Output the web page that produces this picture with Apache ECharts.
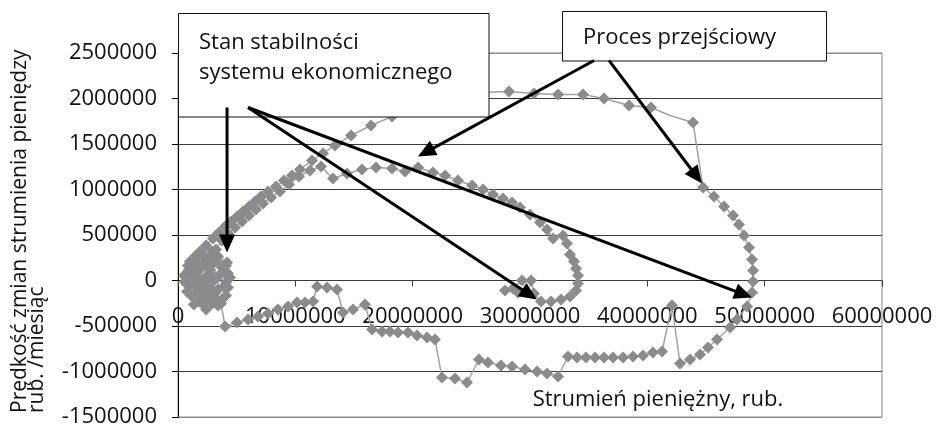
<!DOCTYPE html>
<html><head><meta charset="utf-8">
<script src="https://cdn.jsdelivr.net/npm/echarts@6/dist/echarts.min.js"></script>
<style>html,body{margin:0;padding:0;background:#fff}#c{width:937px;height:427px}</style>
</head><body><div id="c"></div>
<script>
// ---- data ----
const xMin = 0, xMax = 60000000, xStep = 10000000;
const yMin = -1500000, yMax = 2500000, yStep = 500000;

// outer trajectory (large loop) – x: Strumień pieniężny [rub.], y: prędkość zmian [rub./miesiąc]
const outerX = [
 940000, 1530000, 2300000, 3070000, 3750000, 4090000, 3750000, 2900000, 1880000, 1020000, 1620000, 2390000, 3070000, 2130000, 2810000, 1190000, 680000, 4260000, 2900000, 1530000,
 1450000, 2300000, 3410000, 4090000, 4430000, 4090000, 3410000, 2390000, 1360000, 770000, 510000, 1020000, 1880000, 2730000, 3490000, 3410000, 2560000, 1620000, 1280000, 1880000, 2810000, 2300000,
 2470000, 2980000, 2560000, 1790000, 1530000, 2130000, 3240000, 3920000, 3920000, 3240000, 2130000, 1110000, 600000, 850000, 1700000, 2900000, 4180000, 4260000,
 1880000, 2390000, 2980000, 3490000, 4010000, 4520000, 5030000, 5540000, 6050000, 6560000, 7070000, 7670000, 8350000, 9030000, 9720000, 10400000, 11420000, 12360000, 13380000, 14750000, 16450000, 18240000,
 20030000, 21900000, 23860000, 25910000,
 28210000, 30340000, 32390000, 34520000, 36310000, 38440000, 40310000, 41930000, 43890000,
 44750000, 45680000, 46540000, 47300000, 47810000, 48240000, 48670000, 48920000, 49010000, 49010000, 48920000, 48500000, 47640000, 47050000, 45940000, 45170000, 44490000, 43640000, 42790000,
 42100000,
 41250000, 40480000, 39630000, 38780000, 37930000, 37080000, 36310000, 35540000, 34770000, 34010000, 33240000,
 32390000, 31450000, 30600000, 29580000, 28470000, 27530000, 26420000, 25650000,
 24630000, 23610000, 22500000,
 21900000, 21220000, 20370000, 19600000, 18750000, 18070000, 17390000, 16540000,
 15940000, 14920000, 14060000,
 13550000, 12700000, 11850000,
 11510000, 10820000, 10140000, 9380000, 8520000, 7670000, 6820000, 5970000, 5030000, 4010000,
 3670000, 2900000
];
const outerY = [
 121000, 143000, 187000, 198000, 143000, -22000, -209000, -253000, -220000, -55000, -77000, 0, -143000, -132000, 55000, 44000, -33000, 77000, 275000, 275000,
 209000, 253000, 264000, 165000, 33000, -165000, -275000, -319000, -264000, -121000, 55000, 209000, 121000, 121000, 55000, -99000, -187000, -143000, -11000, 11000, -22000, -77000,
 55000, -11000, -99000, -55000, 77000, 187000, 209000, 99000, -66000, -198000, -253000, -165000, -11000, 165000, 275000, 319000, 198000, -77000,
 319000, 385000, 462000, 527000, 593000, 648000, 703000, 758000, 813000, 868000, 923000, 978000, 1033000, 1099000, 1154000, 1220000, 1319000, 1396000, 1484000, 1593000, 1703000, 1802000,
 1912000, 1989000, 2033000, 2066000,
 2077000, 2055000, 2044000, 2044000, 2000000, 1923000, 1901000, 1813000, 1736000,
 1022000, 923000, 813000, 714000, 615000, 495000, 363000, 231000, 110000, -11000, -132000, -286000, -429000, -516000, -648000, -736000, -813000, -868000, -912000,
 -275000,
 -780000, -791000, -824000, -835000, -846000, -846000, -846000, -846000, -846000, -846000, -835000,
 -1055000, -1022000, -1000000, -978000, -945000, -934000, -901000, -868000,
 -1121000, -1077000, -1066000,
 -648000, -626000, -604000, -571000, -571000, -560000, -560000, -538000,
 -264000, -319000, -352000,
 -99000, -77000, -66000,
 -231000, -242000, -242000, -286000, -319000, -363000, -396000, -429000, -462000, -505000,
 -253000, -99000
];

// inner trajectory (smaller loop)
const innerX = [
 2730000, 3240000, 3750000, 4260000, 4860000, 5460000, 6050000, 6650000, 7250000, 7930000, 8690000, 9460000, 10310000, 11250000, 12190000,
 13210000, 14400000, 15680000, 16880000, 18240000, 19350000, 20460000, 21730000, 22760000, 23860000, 25060000, 26000000, 26850000, 27700000, 28470000,
 29150000, 30000000, 30850000, 31450000, 31960000, 32810000, 33150000, 33410000, 33750000, 33920000, 34090000, 34090000, 33920000, 33410000, 32640000,
 31790000, 30940000, 30340000, 30090000, 29320000, 28550000, 27870000, 28980000
];
const innerY = [
 209000, 341000, 440000, 516000, 582000, 648000, 714000, 780000, 846000, 912000, 978000, 1055000, 1143000, 1209000, 1253000,
 1121000, 1176000, 1220000, 1242000, 1231000, 1198000, 1242000, 1187000, 1154000, 1099000, 1044000, 1000000, 945000, 901000, 857000,
 802000, 725000, 637000, 560000, 462000, 495000, 407000, 286000, 209000, 132000, 55000, -33000, -110000, -176000, -209000,
 -231000, -231000, -143000, 0, 0, -88000, -110000, -132000
];

// annotation texts and arrows (arrow ends given in data units)
const boxStanText = ['Stan stabilności', 'systemu ekonomicznego'];
const boxProcesText = 'Proces przejściowy';
const arrowFrom = [[4180000, 1901000], [5970000, 1901000], [5970000, 1901000], [35460000, 2418000], [36730000, 2418000]];
const arrowTo   = [[4180000, 308000], [30600000, -209000], [48920000, -187000], [20450000, 1363000], [44660000, 1066000]];
const xName = 'Strumień pieniężny, rub.';
const yName = 'Prędkość zmian strumienia pieniędzy\nrub. /miesiąc';

// ---- chart ----
const FONT = "'Open Sans', sans-serif";
const GRID = {left: 178, right: 55, top: 53, bottom: 10};
const H = 427;
const chart = echarts.init(document.getElementById('c'), null, {renderer: 'canvas'});
const pair = (xs, ys) => xs.map((x, i) => [x, ys[i]]);
const spikeTop = outerY.reduce((best, y, i) => (outerX[i] > 41500000 && outerX[i] < 42500000 && y > outerY[best] ? i : best), 0);
// x axis sits on y = 0: shift it up from the bottom edge by the pixel height of [yMin, 0]
const plotH = H - GRID.top - GRID.bottom;
const zeroShift = plotH * (0 - yMin) / (yMax - yMin);

const gridColors = ['#8a8a8a', '#3a3a3a', '#3a3a3a', '#3a3a3a', '#3a3a3a', '#3a3a3a', '#3a3a3a', '#3a3a3a', '#8a8a8a'];
const seriesBase = {
  type: 'line',
  symbol: 'diamond',
  itemStyle: {color: '#8b8b8f'},
  lineStyle: {color: '#a2a2a4', width: 1.5},
  silent: true,
  animation: false,
  z: 2
};

chart.setOption({
  animation: false,
  grid: Object.assign({containLabel: false, outerBoundsMode: 'none', show: true, borderColor: '#8a8a8a', borderWidth: 1}, GRID),
  xAxis: {
    type: 'value', min: xMin, max: xMax, interval: xStep, position: 'bottom', offset: -zeroShift,
    axisLine: {show: true, onZero: false, lineStyle: {color: '#3a3a3a', width: 1}},
    axisTick: {show: true, length: 6, lineStyle: {color: '#3a3a3a'}},
    axisLabel: {show: true, color: '#111', fontFamily: FONT, fontSize: 22, margin: 25, formatter: v => String(v)},
    splitLine: {show: false}
  },
  yAxis: {
    type: 'value', min: yMin, max: yMax, interval: yStep,
    axisLine: {show: true, onZero: false, lineStyle: {color: '#000', width: 1}},
    axisTick: {show: true, length: 6, lineStyle: {color: '#000'}},
    axisLabel: {color: '#111', fontFamily: FONT, fontSize: 22, margin: 21, formatter: v => String(v)},
    splitLine: {show: true, lineStyle: {color: gridColors, width: 1}}
  },
  series: [
    Object.assign({}, seriesBase, {name: 'inner', data: pair(innerX, innerY), symbolSize: 12}),
    Object.assign({}, seriesBase, {name: 'outer', data: pair(outerX, outerY),
      symbolSize: (v, p) => (p.dataIndex === spikeTop ? 0 : 12)})
  ]
});

// annotations
const P = v => chart.convertToPixel({gridIndex: 0}, v);
const g = [];
g.push({type: 'rect', z: 100, shape: {x: 178.5, y: 13.5, width: 310.5, height: 103.5},
  style: {fill: '#fff', stroke: '#111', lineWidth: 1}});
g.push({type: 'rect', z: 100, shape: {x: 562.5, y: 11.5, width: 264, height: 49.5},
  style: {fill: '#fff', stroke: '#111', lineWidth: 1}});
g.push({type: 'text', z: 101, x: 199, y: 43, style: {text: boxStanText[0], fontFamily: FONT, fontSize: 22, fill: '#111', verticalAlign: 'middle'}});
g.push({type: 'text', z: 101, x: 199, y: 73, style: {text: boxStanText[1], fontFamily: FONT, fontSize: 22, fill: '#111', verticalAlign: 'middle'}});
g.push({type: 'text', z: 101, x: 583, y: 38, style: {text: boxProcesText, fontFamily: FONT, fontSize: 22, fill: '#111', verticalAlign: 'middle'}});
g.push({type: 'text', z: 101, x: 658, y: 400, style: {text: xName, fontFamily: FONT, fontSize: 22, fill: '#111', align: 'center', verticalAlign: 'middle'}});
g.push({type: 'text', z: 101, x: 12, y: 413, rotation: Math.PI / 2,
  style: {text: yName, fontFamily: FONT, fontSize: 21, lineHeight: 17, fill: '#111', align: 'left', verticalAlign: 'top'}});

arrowFrom.forEach((f, i) => {
  const a = P(f), b = P(arrowTo[i]);
  const dx = b[0] - a[0], dy = b[1] - a[1], L = Math.hypot(dx, dy);
  const ux = dx / L, uy = dy / L, nx = -uy, ny = ux;
  const hl = 18, hw = 8;
  const bx = b[0] - ux * hl, by = b[1] - uy * hl;
  g.push({type: 'line', z: 102, shape: {x1: a[0], y1: a[1], x2: bx + ux * 2, y2: by + uy * 2},
    style: {stroke: '#000', lineWidth: 3}});
  g.push({type: 'polygon', z: 102, shape: {points: [[b[0], b[1]], [bx + nx * hw, by + ny * hw], [bx - nx * hw, by - ny * hw]]},
    style: {fill: '#000'}});
});
chart.setOption({graphic: g});
</script>
</body></html>
